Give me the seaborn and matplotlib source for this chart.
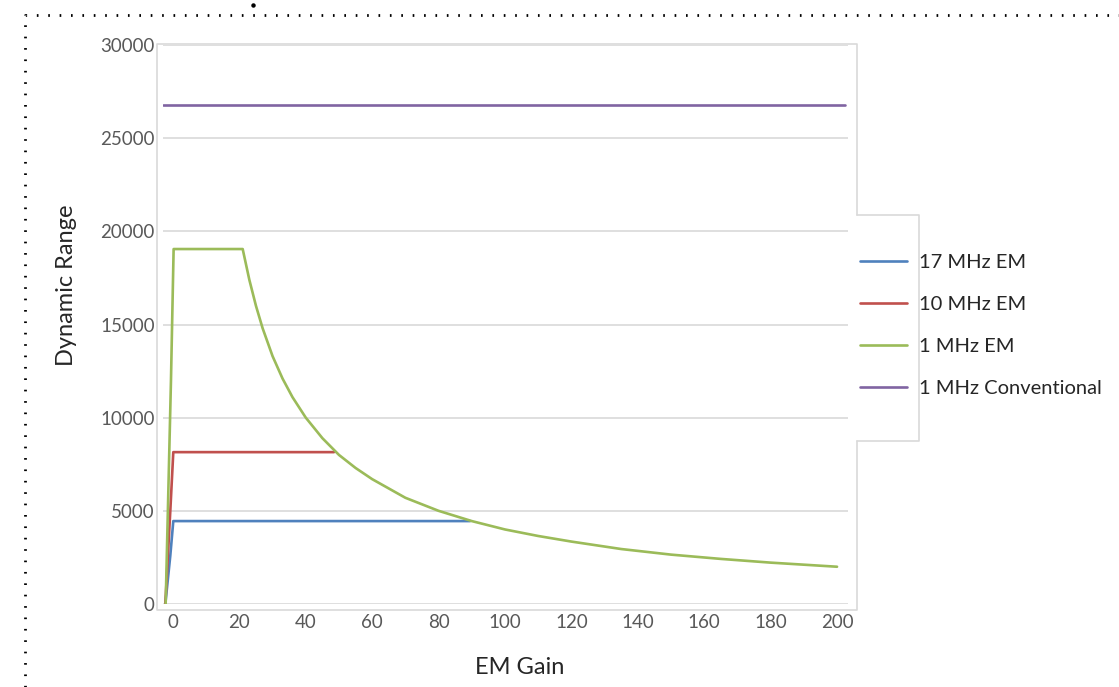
import numpy as np
import pandas as pd
import matplotlib.pyplot as plt
import seaborn as sns
from matplotlib.lines import Line2D

# valores
gain_17mhz = [-2.3, -0.8, 0.1, 89.5]
dr_17mhz = [0, 2600, 4450, 4450]

gain_10mhz = [-2.3, -0.8, 0.1, 48.5]
dr_10mhz = [0, 5000, 8150, 8150]

gain_1mhz = [-2.2, -0.6, 0.2, 21, 23, 25, 27, 30, 33, 36, 40, 45, 50, 55, 60, 70,
             80, 90, 100, 110, 120, 135, 150, 165, 180, 200]
dr_1mhz = [0, 12000, 19050, 19050, 17400, 16000, 14800, 13300, 12100, 11100, 10000,
           8900, 8000, 7300, 6700, 5700, 5000, 4450, 4000, 3650, 3350, 2950, 2650,
           2420, 2220, 2000]

gain_conv = [-3, 202.5]
dr_conv = [26800, 26800]

series_names = ['17 MHz EM', '10 MHz EM', '1 MHz EM', '1 MHz Conventional']
colors = ['#4F81BD', '#C0504D', '#9BBB59', '#8064A2']

df = pd.concat([
    pd.DataFrame({'gain': gain_17mhz, 'dr': dr_17mhz, 'serie': series_names[0]}),
    pd.DataFrame({'gain': gain_10mhz, 'dr': dr_10mhz, 'serie': series_names[1]}),
    pd.DataFrame({'gain': gain_1mhz, 'dr': dr_1mhz, 'serie': series_names[2]}),
    pd.DataFrame({'gain': gain_conv, 'dr': dr_conv, 'serie': series_names[3]}),
])

sns.set_style('white')
plt.rcParams['font.family'] = ['Lato', 'DejaVu Sans']

W, H = 1119, 687
fig = plt.figure(figsize=(W / 100, H / 100), dpi=100)

def fx(x):
    return x / W

def fy(y):
    return 1 - y / H

ax = fig.add_axes([fx(163), fy(604), (848 - 163) / W, (604 - 45) / H])
sns.lineplot(data=df, x='gain', y='dr', hue='serie', palette=colors,
             hue_order=series_names, sort=False, estimator=None,
             linewidth=1.9, ax=ax)

ax.set_xlim(-3, 203.3)
ax.set_ylim(0, 30000)
ax.set_xticks(np.arange(0, 201, 20))
ax.set_yticks(np.arange(0, 30001, 5000))
for s in ax.spines.values():
    s.set_visible(False)
ax.grid(axis='y', color='#D9D9D9', linewidth=1.2)
ax.set_axisbelow(True)
ax.tick_params(axis='both', labelsize=13.5, colors='#595959', length=0)
ax.tick_params(axis='x', pad=7)
ax.tick_params(axis='y', pad=6)

ax.set_xlabel('EM Gain', fontsize=17, color='#262626')
ax.set_ylabel('Dynamic Range', fontsize=17, color='#262626')
ax.xaxis.set_label_coords(0.52, -0.094)
ax.yaxis.set_label_coords(-0.125, 0.57)

# legenda
handles, labels = ax.get_legend_handles_labels()
ax.legend(handles, labels, loc='upper left', frameon=False,
          bbox_to_anchor=(fx(860), fy(254)), bbox_transform=fig.transFigure,
          fontsize=14.5, handlelength=2.35, handletextpad=0.6,
          labelspacing=1.24, borderpad=0, borderaxespad=0,
          labelcolor='#262626')

# moldura da área de plotagem (interrompida pela legenda)
frame_x = [857, 857, 157, 157, 857, 857]
frame_y = [215, 44, 44, 610, 610, 441]
fig.add_artist(Line2D([fx(v) for v in frame_x], [fy(v) for v in frame_y],
                      color='#D9D9D9', linewidth=1.2, transform=fig.transFigure))
box_x = [857, 919, 919, 857]
box_y = [215, 215, 441, 441]
fig.add_artist(Line2D([fx(v) for v in box_x], [fy(v) for v in box_y],
                      color='#D9D9D9', linewidth=1.2, transform=fig.transFigure))

# borda pontilhada
fig.add_artist(Line2D([fx(25), fx(25), fx(W)], [fy(H), fy(15), fy(15)],
                      color='black', linewidth=2, linestyle=(0, (0.6, 3.5)),
                      transform=fig.transFigure))
fig.add_artist(Line2D([fx(253)], [fy(5)], marker='o', markersize=2.2,
                      color='black', linestyle='none', transform=fig.transFigure))

plt.savefig('out.png', dpi=100)
